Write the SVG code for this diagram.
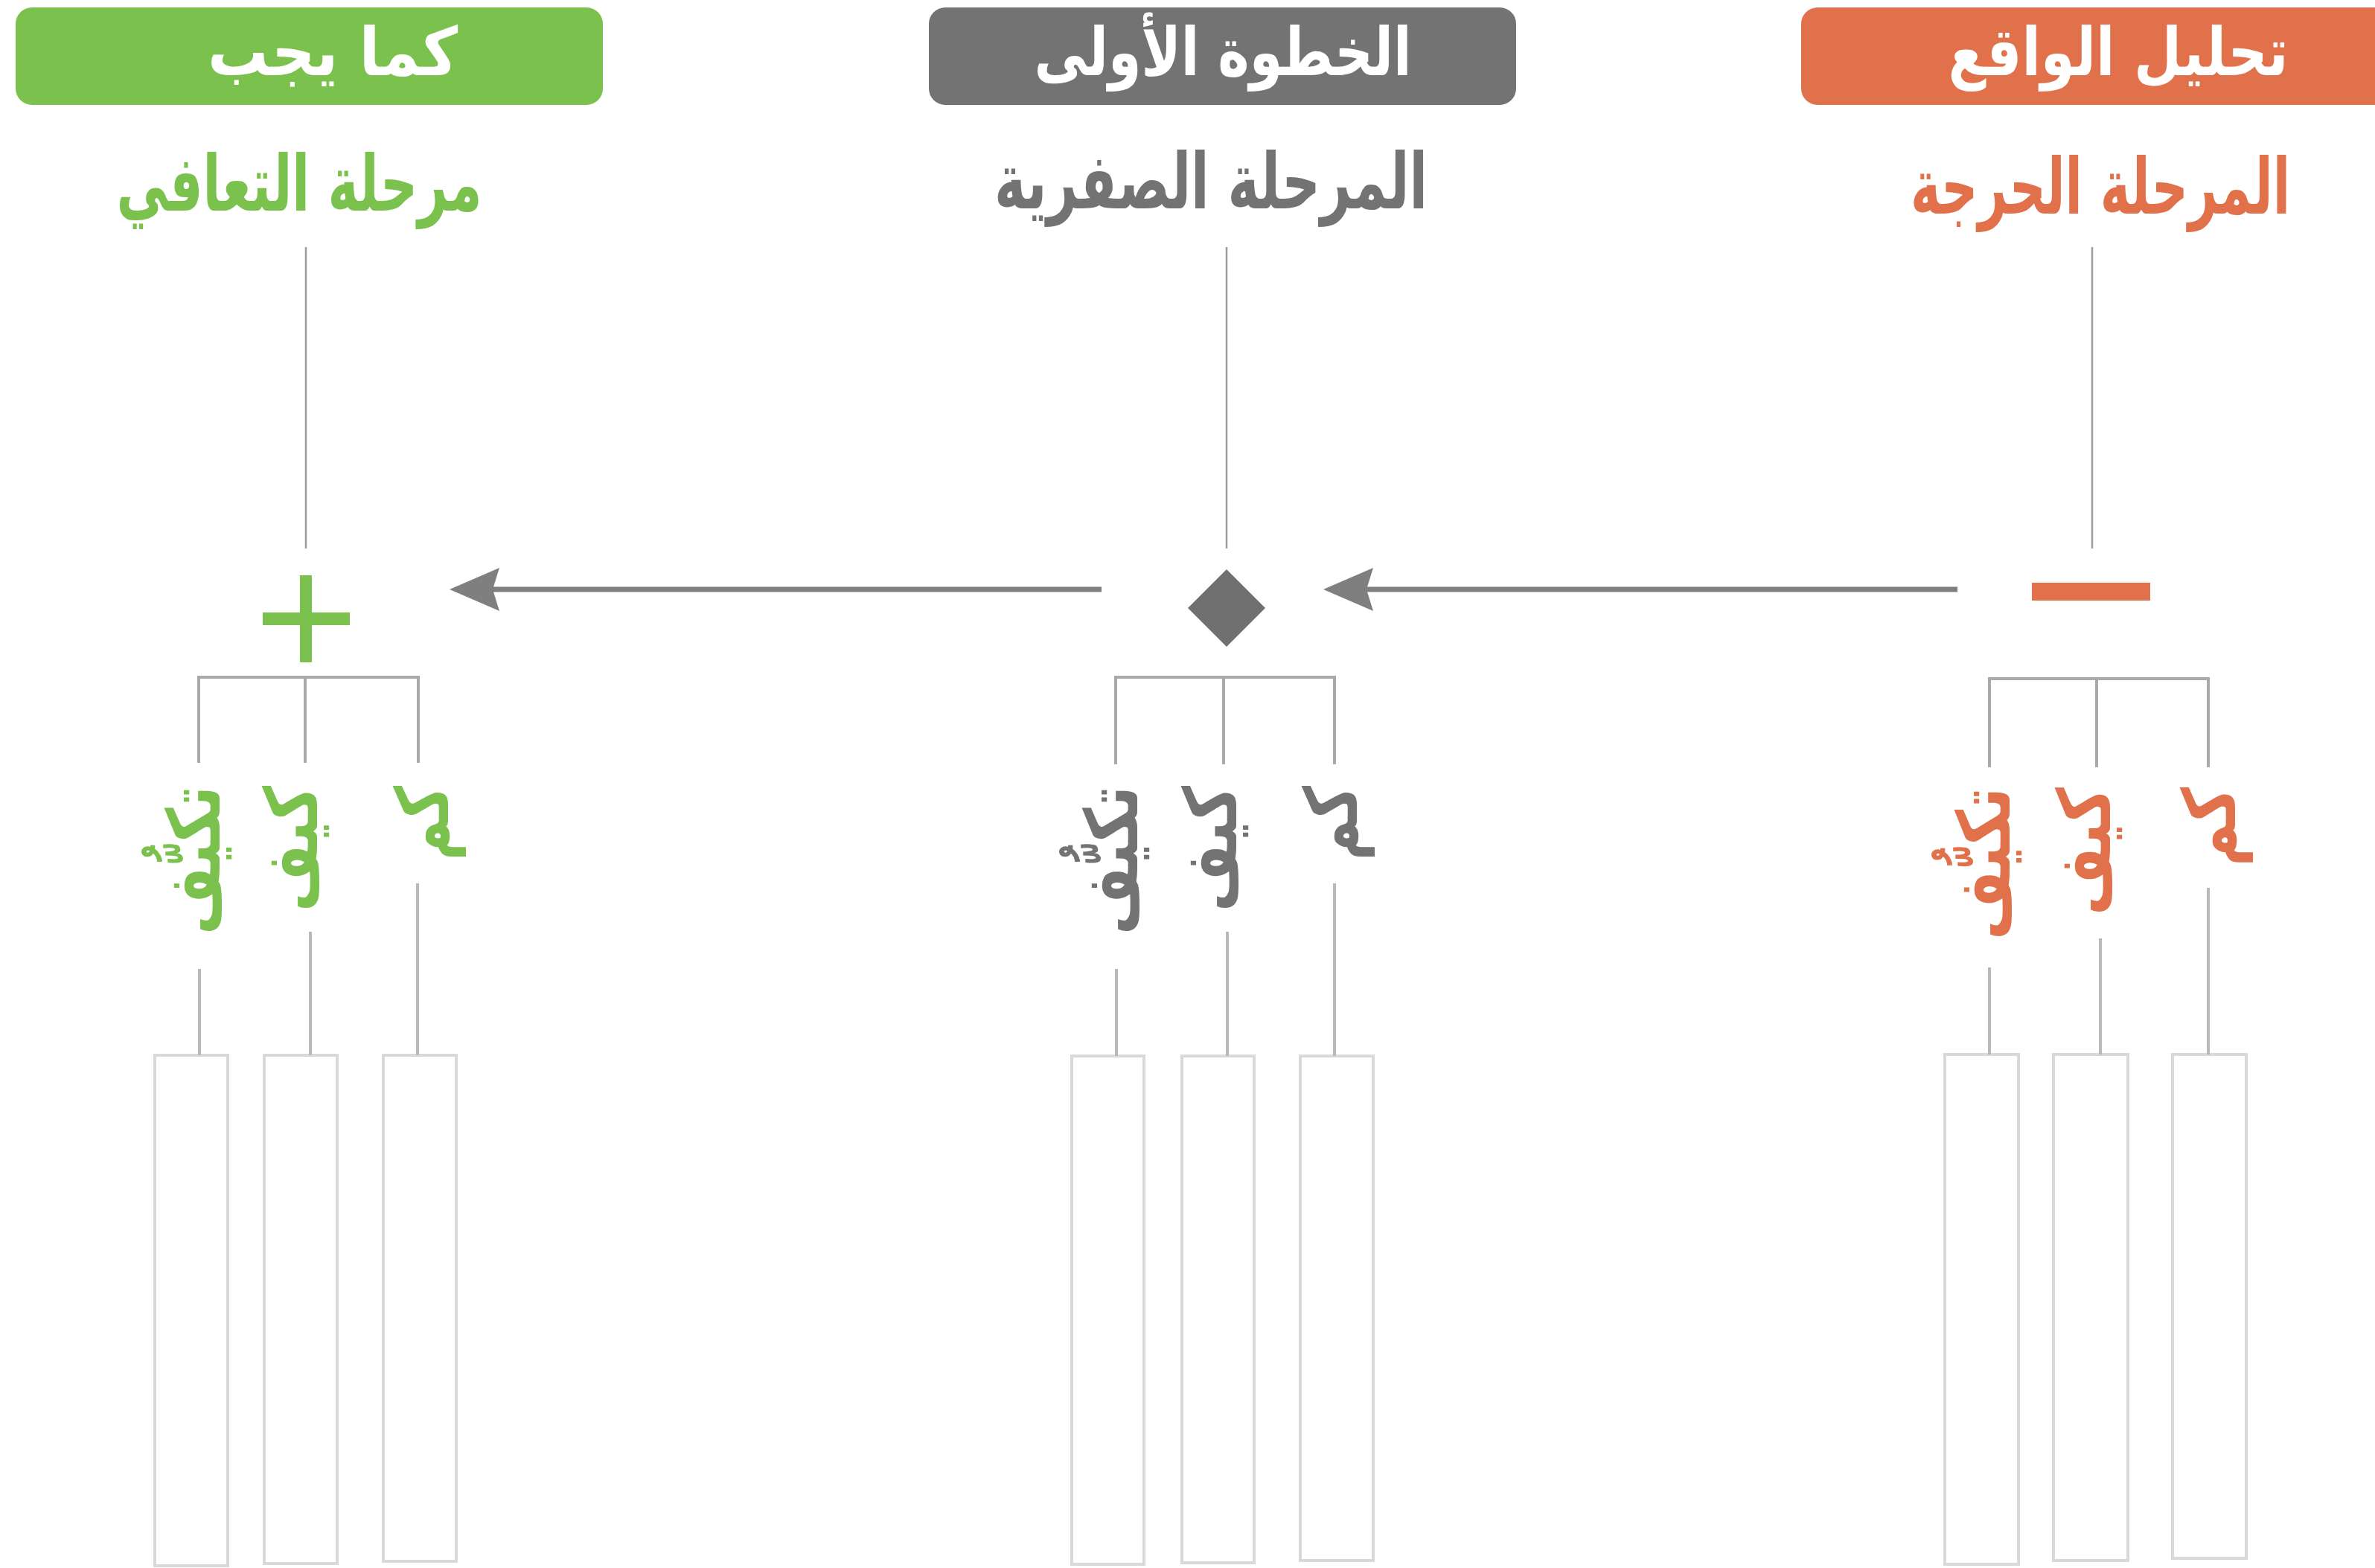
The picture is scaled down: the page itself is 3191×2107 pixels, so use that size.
<svg xmlns="http://www.w3.org/2000/svg" width="3191" height="2107" viewBox="0 0 3191 2107">
<defs>
<style>
text{font-family:"DejaVu Sans",sans-serif;font-weight:bold}
.hdr{font-size:90px;fill:#ffffff;text-anchor:middle}
.sub{font-size:104px;text-anchor:middle}
.lbl{font-size:98px;text-anchor:end}
.g{fill:#7bc14e}
.k{fill:#737373}
.o{fill:#e0714a}
.top{stroke:#9c9c9c;stroke-width:2.5;fill:none}
.br{stroke:#a9a9a9;stroke-width:4;fill:none}
.low{stroke:#b9b9b9;stroke-width:4;fill:none}
.box{fill:#ffffff;stroke:#d9d9d9;stroke-width:4}
.arr{stroke:#7f7f7f;stroke-width:7;fill:none}
</style>
<marker id="ah" markerUnits="userSpaceOnUse" markerWidth="67" markerHeight="58" viewBox="0 0 67 58" refX="9" refY="29" orient="auto">
<path d="M67,29 L0,0 L9,29 L0,58 Z" fill="#7f7f7f"/>
</marker>
</defs>
<rect width="3191" height="2107" fill="#ffffff"/>

<g id="header-green">
<rect x="21" y="10" width="789" height="131" rx="22" fill="#7bc14e"/>
<text class="hdr" x="447" y="101" textLength="336" lengthAdjust="spacingAndGlyphs">كما يجب</text>
</g>
<g id="header-gray">
<rect x="1248" y="10" width="789" height="131" rx="22" fill="#737373"/>
<text class="hdr" x="1643" y="101" textLength="507" lengthAdjust="spacingAndGlyphs">الخطوة الأولى</text>
</g>
<g id="header-orange">
<rect x="2420" y="10" width="820" height="131" rx="22" fill="#e0714a"/>
<text class="hdr" x="2846" y="101" textLength="457" lengthAdjust="spacingAndGlyphs">تحليل الواقع</text>
</g>

<g id="stage-green">
<text class="sub g" x="402" y="283" textLength="491" lengthAdjust="spacingAndGlyphs">مرحلة التعافي</text>
</g>
<g id="stage-gray">
<text class="sub k" x="1627" y="280" textLength="582" lengthAdjust="spacingAndGlyphs">المرحلة الصفرية</text>
</g>
<g id="stage-orange">
<text class="sub o" x="2822" y="287" textLength="510" lengthAdjust="spacingAndGlyphs">المرحلة الحرجة</text>
</g>

<g id="symbol-plus" fill="#7bc14e">
<rect x="353" y="823" width="117" height="17"/>
<rect x="403" y="773" width="16" height="117"/>
</g>
<g id="symbol-diamond">
<path d="M1648,765 L1700,817 L1648,869 L1596,817 Z" fill="#707070"/>
</g>
<g id="symbol-minus">
<rect x="2730" y="783" width="159" height="24" fill="#e0714a"/>
</g>

<g id="labels-green" class="g">
<text class="lbl" transform="translate(295,1056) rotate(-90)" textLength="200" lengthAdjust="spacingAndGlyphs">تكيُّف</text>
<text class="lbl" transform="translate(426,1056) rotate(-90)" textLength="169" lengthAdjust="spacingAndGlyphs">كيف</text>
<text class="lbl" transform="translate(602,1056) rotate(-90)" textLength="100" lengthAdjust="spacingAndGlyphs">كم</text>
</g>
<g id="labels-gray" class="k">
<text class="lbl" transform="translate(1528,1056) rotate(-90)" textLength="200" lengthAdjust="spacingAndGlyphs">تكيُّف</text>
<text class="lbl" transform="translate(1661,1056) rotate(-90)" textLength="169" lengthAdjust="spacingAndGlyphs">كيف</text>
<text class="lbl" transform="translate(1823,1056) rotate(-90)" textLength="100" lengthAdjust="spacingAndGlyphs">كم</text>
</g>
<g id="labels-orange" class="o">
<text class="lbl" transform="translate(2700,1058) rotate(-90)" textLength="205" lengthAdjust="spacingAndGlyphs">تكيُّف</text>
<text class="lbl" transform="translate(2835,1058) rotate(-90)" textLength="172" lengthAdjust="spacingAndGlyphs">كيف</text>
<text class="lbl" transform="translate(3003,1058) rotate(-90)" textLength="106" lengthAdjust="spacingAndGlyphs">كم</text>
</g>

<g id="boxes-green">
<rect class="box" x="208" y="1418" width="98" height="686"/>
<rect class="box" x="355" y="1418" width="98" height="683"/>
<rect class="box" x="515" y="1418" width="98" height="680"/>
</g>
<g id="boxes-gray">
<rect class="box" x="1440" y="1419" width="97" height="683"/>
<rect class="box" x="1588" y="1419" width="97" height="681"/>
<rect class="box" x="1747" y="1419" width="98" height="678"/>
</g>
<g id="boxes-orange">
<rect class="box" x="2613" y="1417" width="99" height="685"/>
<rect class="box" x="2759" y="1417" width="100" height="680"/>
<rect class="box" x="2919" y="1417" width="99" height="677"/>
</g>

<g id="connectors">
<path class="top" d="M411,332 V737 M1648,332 V737 M2811,332 V737"/>
<path class="br" d="M267,1025 V910 H562 V1025 M410,910 V1025"/>
<path class="br" d="M1499,1027 V910 H1793 V1027 M1644,910 V1027"/>
<path class="br" d="M2673,1031 V912 H2967 V1031 M2817,912 V1031"/>
<path class="low" d="M268,1302 V1418 M417,1252 V1418 M561,1187 V1418"/>
<path class="low" d="M1500,1302 V1419 M1649,1252 V1419 M1793,1187 V1419"/>
<path class="low" d="M2673,1300 V1417 M2822,1261 V1417 M2967,1193 V1417"/>
<line class="arr" x1="1480" y1="792" x2="662" y2="792" marker-end="url(#ah)"/>
<line class="arr" x1="2630" y1="792" x2="1836" y2="792" marker-end="url(#ah)"/>
</g>
</svg>
